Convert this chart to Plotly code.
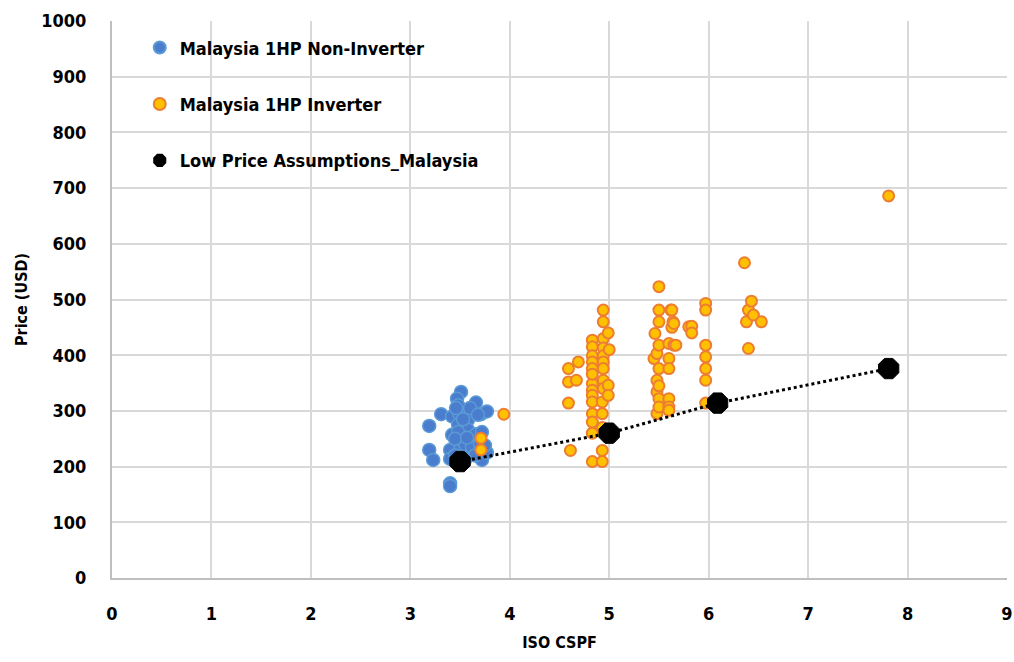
import plotly.graph_objects as go

# Malaysia 1HP Non-Inverter
blue_x = [3.51, 3.47, 3.48, 3.66, 3.31, 3.42, 3.49, 3.58, 3.71, 3.77, 3.19, 3.58, 3.48, 3.58,
          3.42, 3.48, 3.66, 3.72, 3.19, 3.23, 3.40, 3.40, 3.58, 3.60, 3.72, 3.77, 3.40, 3.40,
          3.50, 3.55, 3.45, 3.62, 3.70, 3.65, 3.55, 3.45, 3.75, 3.53, 3.46, 3.60, 3.68, 3.57]
blue_y = [334, 322, 310, 315, 294, 290, 296, 297, 294, 299, 273, 284, 275, 266,
          257, 262, 258, 262, 230, 212, 230, 214, 245, 225, 212, 225, 170, 165,
          230, 240, 250, 235, 240, 220, 212, 220, 238, 285, 305, 305, 293, 252]

# Malaysia 1HP Inverter
orange_x = [3.94, 3.71, 3.71,
            4.59, 4.59, 4.59, 4.61, 4.67, 4.69,
            4.83, 4.83, 4.83, 4.83, 4.83, 4.83, 4.83, 4.83, 4.83, 4.83, 4.83, 4.83, 4.83, 4.83,
            4.93, 4.93, 4.94, 4.94, 4.94, 4.94, 4.94, 4.94, 4.94, 4.94, 4.94, 4.93, 4.93, 4.93,
            4.99, 4.99, 4.99, 5.00,
            5.45, 5.46, 5.48, 5.48, 5.48, 5.48, 5.50, 5.50, 5.50, 5.50, 5.50, 5.50, 5.50, 5.50,
            5.60, 5.60, 5.60, 5.60, 5.60, 5.60, 5.62, 5.63, 5.63, 5.64, 5.65, 5.65, 5.67,
            5.80, 5.83, 5.83,
            5.97, 5.97, 5.97, 5.97, 5.97, 5.97, 5.97,
            6.36, 6.38, 6.40, 6.40, 6.43, 6.45, 6.53,
            7.81]
orange_y = [294, 251, 230,
            376, 352, 314, 229, 355, 388,
            427, 415, 399, 388, 376, 349, 337, 328, 316, 295, 280, 260, 209, 366,
            316, 295, 481, 460, 430, 413, 399, 388, 376, 355, 340, 229, 209, 270,
            440, 346, 328, 410,
            394, 439, 403, 355, 334, 295, 523, 481, 460, 418, 376, 322, 307, 345,
            421, 394, 376, 322, 307, 301, 481, 450, 481, 460, 457, 418, 418,
            451, 452, 440,
            493, 481, 418, 397, 376, 355, 314,
            566, 460, 481, 412, 497, 472, 460,
            686]

# Low Price Assumptions_Malaysia
black_x = [3.50, 5.00, 6.09, 7.81]
black_y = [209, 260, 314, 376]

FONT = "DejaVu Sans Condensed, Roboto, sans-serif"

fig = go.Figure()
fig.add_trace(go.Scatter(
    x=blue_x, y=blue_y, mode="markers", name="<b>Malaysia 1HP Non-Inverter</b>",
    legendgroup="a",
    marker=dict(size=13, color="#4A7DCD", line=dict(color="#5B9BD5", width=1.5))))
fig.add_trace(go.Scatter(
    x=orange_x, y=orange_y, mode="markers", name="<b>Malaysia 1HP Inverter</b>",
    legendgroup="b",
    marker=dict(size=11, color="#FFC000", line=dict(color="#ED7D31", width=2))))
fig.add_trace(go.Scatter(
    x=black_x, y=black_y, mode="lines", showlegend=False, hoverinfo="skip",
    line=dict(color="black", width=3, dash="dot")))
fig.add_trace(go.Scatter(
    x=black_x, y=black_y, mode="markers", name="<b>Low Price Assumptions_Malaysia</b>",
    legendgroup="c",
    marker=dict(size=22, color="black", symbol="octagon", line=dict(color="black", width=1))))

fig.update_layout(
    width=1014, height=662,
    margin=dict(l=112, r=7, t=21, b=84),
    paper_bgcolor="white", plot_bgcolor="white",
    font=dict(family=FONT, size=17, color="black"),
    showlegend=True,
    legend=dict(x=0.031, y=0.985, xanchor="left", yanchor="top",
                bgcolor="rgba(255,255,255,0)", tracegroupgap=30,
                itemsizing="constant", font=dict(size=18, family=FONT)),
    xaxis=dict(range=[0, 9], dtick=1, showgrid=True, gridcolor="#D9D9D9", gridwidth=2,
               zeroline=False, showline=True, linecolor="#BFBFBF", linewidth=2,
               ticks="outside", ticklen=18, tickcolor="rgba(0,0,0,0)", automargin=False,
               tickfont=dict(size=18, family=FONT),
               title=dict(text="<b>ISO CSPF</b>", font=dict(size=16, family=FONT), standoff=14)),
    yaxis=dict(range=[0, 1000], dtick=100, showgrid=True, gridcolor="#D9D9D9", gridwidth=2,
               zeroline=False, showline=True, linecolor="#BFBFBF", linewidth=2,
               ticks="outside", ticklen=20, tickcolor="rgba(0,0,0,0)", automargin=False,
               tickfont=dict(size=18, family=FONT),
               title=dict(text="<b>Price (USD)</b>", font=dict(size=16, family=FONT), standoff=10)),
)
fig.update_xaxes(tickprefix="<b>", ticksuffix="</b>")
fig.update_yaxes(tickprefix="<b>", ticksuffix="</b>")

fig.write_html("out.html", config={"displayModeBar": False},
               post_script="document.body.style.margin='0';")
